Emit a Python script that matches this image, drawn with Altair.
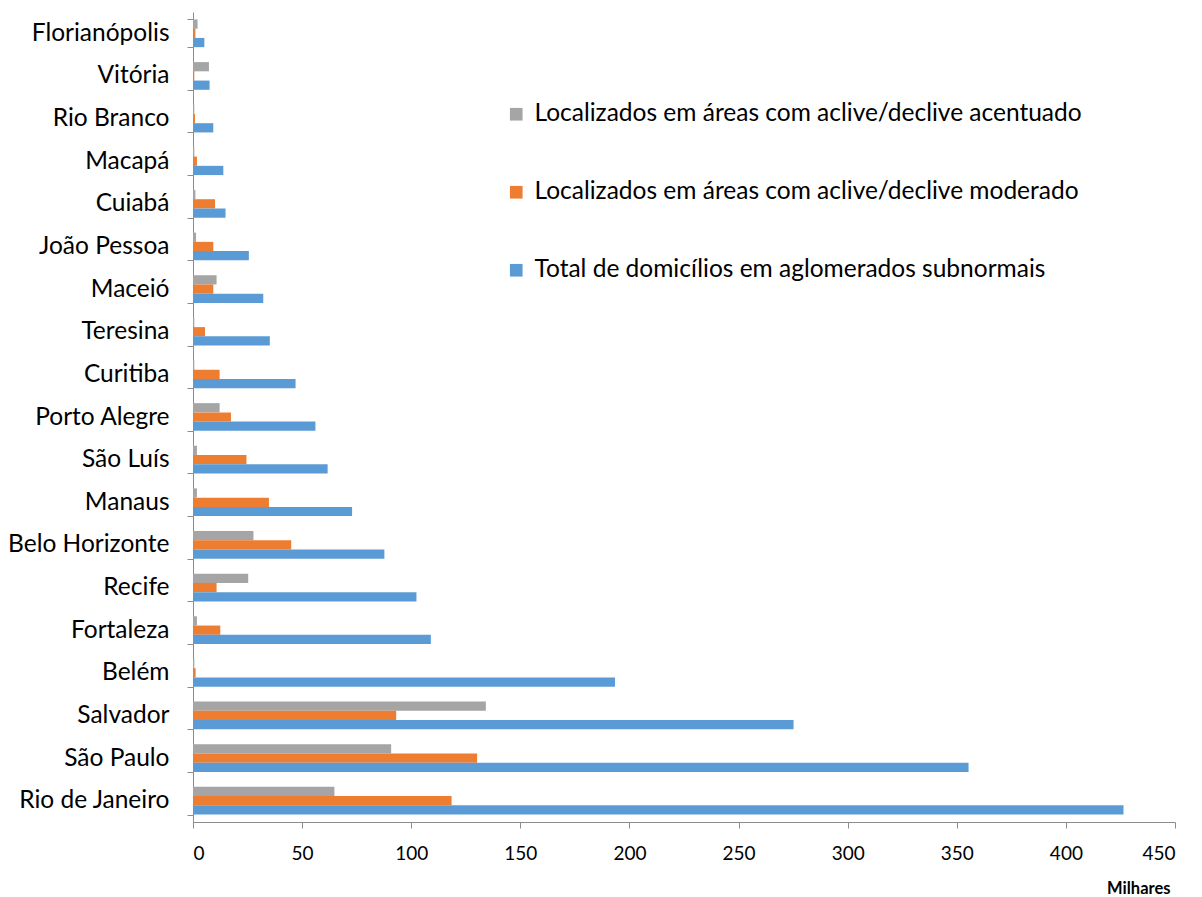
import altair as alt
import pandas as pd

# Cities, top to bottom
cities = [
    "Florianópolis", "Vitória", "Rio Branco", "Macapá", "Cuiabá",
    "João Pessoa", "Maceió", "Teresina", "Curitiba", "Porto Alegre",
    "São Luís", "Manaus", "Belo Horizonte", "Recife", "Fortaleza",
    "Belém", "Salvador", "São Paulo", "Rio de Janeiro",
]

# Households (thousands)
acentuado = [2.1, 7.3, 0.6, 0.6, 1.1, 1.4, 10.8, 0.6, 0.6, 12.2,
             1.8, 1.8, 27.7, 25.3, 1.8, 0.6, 134.2, 90.8, 64.8]
moderado = [1.1, 0.6, 0.9, 1.8, 10.1, 9.3, 9.3, 5.5, 12.2, 17.4,
            24.5, 34.8, 45.0, 10.8, 12.5, 1.2, 93.1, 130.2, 118.5]
total = [5.2, 7.6, 9.3, 13.9, 14.9, 25.6, 32.2, 35.2, 47.0, 56.1,
         61.7, 72.9, 87.7, 102.4, 109.0, 193.4, 275.2, 355.4, 426.4]

series = [
    "Localizados em áreas com aclive/declive acentuado",
    "Localizados em áreas com aclive/declive moderado",
    "Total de domicílios em aglomerados subnormais",
]
colors = ["#A5A5A5", "#ED7D31", "#5B9BD5"]
x_ticks = [0, 50, 100, 150, 200, 250, 300, 350, 400, 450]

rows = []
for s, vals in zip(series, [acentuado, moderado, total]):
    for c, v in zip(cities, vals):
        rows.append({"cidade": c, "serie": s, "valor": v})
df = pd.DataFrame(rows)

FONT = "Lato"

chart = alt.Chart(df).mark_bar().encode(
    x=alt.X(
        "valor:Q",
        scale=alt.Scale(domain=[0, 450], nice=False),
        axis=alt.Axis(
            values=x_ticks, title="Milhares", titleAlign="right",
            titleBaseline="middle", titleX=977, titleY=66,
            titleFontWeight="bold", titleFontSize=16.5,
            titleFont=FONT, titleColor="#000000",
            labelFont=FONT, labelFontSize=19, labelColor="#000000",
            labelPadding=16, tickSize=6, tickColor="#8c8c8c",
            domainColor="#8c8c8c", grid=False,
        ),
    ),
    y=alt.Y(
        "cidade:N", sort=cities,
        scale=alt.Scale(paddingInner=0.35, paddingOuter=0.175),
        axis=alt.Axis(
            title=None, labelFont=FONT, labelFontSize=24.5,
            labelColor="#000000", labelPadding=18, tickSize=6,
            tickBand="extent", tickColor="#8c8c8c", domainColor="#8c8c8c",
        ),
    ),
    yOffset=alt.YOffset("serie:N", sort=series),
    color=alt.Color(
        "serie:N", sort=series,
        scale=alt.Scale(domain=series, range=colors),
        legend=alt.Legend(
            title=None, orient="none", legendX=311, legendY=90,
            symbolType="square", symbolSize=160, symbolStrokeWidth=0,
            labelFont=FONT, labelFontSize=24.5, labelColor="#000000",
            labelLimit=800, rowPadding=53, labelOffset=6,
        ),
    ),
).properties(
    width=982, height=810,
    autosize=alt.AutoSizeParams(type="none"),
    padding={"left": 193, "top": 12, "right": 27, "bottom": 75},
).configure_view(stroke=None)

chart.save("out.html", embed_options={"renderer": "svg", "actions": False})
